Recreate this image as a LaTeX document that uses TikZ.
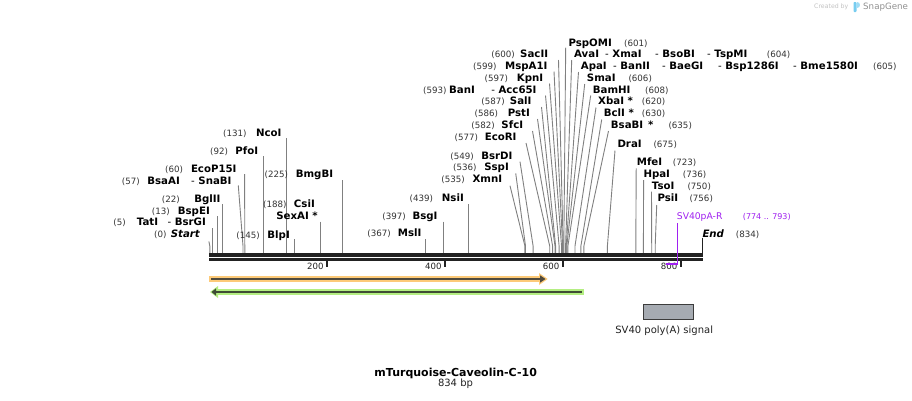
\documentclass[tikz,border=0pt]{standalone}
\usepackage{fontspec}
\setmainfont{DejaVu Sans}
\definecolor{cutgray}{RGB}{128,128,128}
\definecolor{numgray}{RGB}{51,51,51}
\definecolor{bbcol}{RGB}{34,34,34}
\definecolor{purp}{RGB}{160,32,240}
\definecolor{orband}{RGB}{253,202,120}
\definecolor{ordark}{RGB}{80,74,60}
\definecolor{grband}{RGB}{180,238,130}
\definecolor{grdark}{RGB}{62,76,52}
\definecolor{boxfill}{RGB}{166,171,178}
\definecolor{boxline}{RGB}{60,60,60}
\definecolor{snapblue}{RGB}{120,205,240}
\definecolor{crgray}{RGB}{195,195,195}
\definecolor{sggray}{RGB}{145,145,145}
\begin{document}
\begin{tikzpicture}[x=1pt,y=-1pt,
  nm/.style={inner sep=0pt,font=\fontsize{10.2}{12}\selectfont\bfseries,text=black},
  nmr/.style={nm,anchor=base east},
  nml/.style={nm,anchor=base west},
  nb/.style={inner sep=0pt,font=\fontsize{8.7}{10}\selectfont,text=numgray},
  nbr/.style={nb,anchor=base east},
  nbl/.style={nb,anchor=base west},
  cut/.style={draw=cutgray,line width=0.9pt},
  bar/.style={draw=bbcol,line width=3.2pt},
  tickmark/.style={draw=bbcol,line width=2pt},
  ticklbl/.style={inner sep=0pt,font=\fontsize{8.6}{10}\selectfont,text=bbcol,anchor=base east},
  plain/.style={inner sep=0pt}
]
\fill[white] (0,0) rectangle (912,400);
\useasboundingbox (0,0) rectangle (912,400);

% cut-site connectors
\foreach \id/\xb/\xt/\yt in {
 Start/209.8/208.9/241.5, TatI/212.3/212.3/228, BspEI/217.1/217.1/216, BglII/222.4/222.4/204,
 BsaAI/243.0/238.3/185.5, EcoP/244.8/244.6/174, PfoI/263.7/263.7/156, NcoI/286.7/286.7/138.3,
 BlpI/294.9/294.9/239, CsiI/320.3/320.3/221.7, BmgBI/342.1/342.1/180,
 MslI/425.8/425.8/239, BsgI/443.5/443.5/221.7, NsiI/468.3/468.3/204,
 XmnI/524.9/510/185.7, SspI/525.5/515.7/173.3, BsrDI/533.1/520/161.7, EcoRI/549.7/526/143,
 SfcI/552.6/532.5/131, PstI/555.0/537.5/119, SalI/555.6/541.5/107, BanI/559.1/545.5/95.5,
 KpnI/561.5/549.5/83.5, MspAI/562.6/554/71.5, SacII/563.2/558.5/60,
 PspOMI/563.8/565.7/47.5, AvaI/565.6/571.7/60, ApaI/566.2/578.5/72, SmaI/566.8/584.7/84,
 BamHI/567.9/590.7/95.5, XbaI/575.0/596/107.5, BclI/580.9/601.7/119.5, BsaBI/583.9/608.5/131,
 DraI/607.4/615/150.5, MfeI/635.8/636.2/168.3, HpaI/643.4/643.6/180, TsoI/651.7/651.5/191.7,
 PsiI/655.2/656.7/205}
{
 \coordinate (b\id) at (\xb,254);
 \coordinate (k\id) at (\xb,246);
 \coordinate (t\id) at (\xt,\yt);
 \draw[cut] (t\id) -- (k\id) -- (b\id);
}
\coordinate (bEnd) at (702,254);
\coordinate (tEnd) at (702,237.5);
\draw[draw=bbcol,line width=1pt] (tEnd) -- (bEnd);

% backbone
\coordinate (bbA1) at (209,255);
\coordinate (bbB1) at (703,255);
\coordinate (bbA2) at (209,259.5);
\coordinate (bbB2) at (703,259.5);
\draw[bar] (bbA1) -- (bbB1);
\draw[bar] (bbA2) -- (bbB2);

% ticks
\foreach \v/\x in {200/327,400/445,600/562.8,800/680.8}{
  \coordinate (tk\v a) at (\x,261);
  \coordinate (tk\v b) at (\x,267);
  \draw[tickmark] (tk\v a) -- (tk\v b);
  \node[ticklbl] (tl\v) at ({\x-3.3},269.3) {\v};
}

% left-side names
\node[nmr] (nStart) at (200,237.7) {\itshape Start};
\foreach \id/\t/\x/\y in {
 TatI/TatI/158.3/225.7, BsrGI/\textmd{-} BsrGI/206/225.7, BspEI/BspEI/210/214,
 BglII/BglII/220.7/202.3, BsaAI/BsaAI/180/184, SnaBI/\textmd{-} SnaBI/231.7/184,
 EcoP/EcoP15I/236.7/172.3, PfoI/PfoI/258.3/154.3, NcoI/NcoI/281.7/136.7,
 BlpI/BlpI/290/238.3, CsiI/CsiI/315/207.3, SexAI/SexAI */318/219.3,
 BmgBI/BmgBI/333.3/177.3, MslI/MslI/421.7/236.7, BsgI/BsgI/437.7/219.3,
 NsiI/NsiI/464/201, XmnI/XmnI/502.3/182.7, SspI/SspI/509/170.7,
 BsrDI/BsrDI/512.7/159, EcoRI/EcoRI/516.7/140.2, SfcI/SfcI/523.3/128.4,
 PstI/PstI/530/116.6, SalI/SalI/531.7/104.8, BanI/BanI/475/93,
 Acc/\textmd{-} Acc65I/536.7/93, KpnI/KpnI/543.3/81.3, MspAI/MspA1I/547.7/69.5,
 SacII/SacII/548.3/57.7}
{ \node[nmr] (n\id) at (\x,\y) {\t}; }

% left-side positions
\foreach \id/\t/\x/\y in {
 q0/(0)/166.7/237.7, q5/(5)/126/225.7, q13/(13)/170/214, q22/(22)/180/202.3,
 q57/(57)/140/184, q60/(60)/183.3/172.3, q92/(92)/228.3/154.3, q131/(131)/246.7/136.7,
 q145/(145)/260/238.3, q188/(188)/286.7/207.3, q225/(225)/288.3/177.3,
 q367/(367)/391/236.7, q397/(397)/406/219.3, q439/(439)/433.3/201,
 q535/(535)/465/182.7, q536/(536)/476.7/170.7, q549/(549)/474/159,
 q577/(577)/478.3/140.2, q582/(582)/495/128.4, q586/(586)/498.3/116.6,
 q587/(587)/505/104.8, q593/(593)/446.7/93, q597/(597)/508.3/81.3,
 q599/(599)/496.7/69.5, q600/(600)/515/57.7}
{ \node[nbr] (\id) at (\x,\y) {\t}; }

% right-side names
\node[nml] (nEnd) at (702.3,237.3) {\itshape End};
\foreach \id/\t/\x/\y in {
 PspOMI/PspOMI/568.3/46, AvaI/AvaI/574/57.7, XmaI/\textmd{-} XmaI/605/57.7,
 BsoBI/\textmd{-} BsoBI/655/57.7, TspMI/\textmd{-} TspMI/707/57.7,
 ApaI/ApaI/580.7/69.5, BanII/\textmd{-} BanII/613/69.5, BaeGI/\textmd{-} BaeGI/662/69.5,
 Bsp/\textmd{-} Bsp1286I/718/69.5, Bme/\textmd{-} Bme1580I/793/69.5,
 SmaI/SmaI/586.7/81.3, BamHI/BamHI/592.7/93, XbaI/XbaI */598/104.8,
 BclI/BclI */603.7/116.6, BsaBI/BsaBI\hspace{5pt}*/610.7/128.4, DraI/DraI/617.3/147.7,
 MfeI/MfeI/636.7/165.7, HpaI/HpaI/643.3/177.3, TsoI/TsoI/651.7/189, PsiI/PsiI/657.3/201}
{ \node[nml] (n\id) at (\x,\y) {\t}; }

% right-side positions
\foreach \id/\t/\x/\y in {
 q601/(601)/624/46, q604/(604)/766.7/57.7, q605/(605)/873/69.5, q606/(606)/628.3/81.3,
 q608/(608)/645/93, q620/(620)/641.7/104.8, q630/(630)/641.7/116.6, q635/(635)/668.3/128.4,
 q675/(675)/653.3/147.7, q723/(723)/672.7/165.7, q736/(736)/682.7/177.3,
 q750/(750)/687.3/189, q756/(756)/689.3/201, q834/(834)/735.7/237.3}
{ \node[nbl] (\id) at (\x,\y) {\t}; }

% primer SV40pA-R
\node[plain,anchor=base west,font=\fontsize{9.2}{11}\selectfont,text=purp] (pname) at (676.7,219.3) {SV40pA-R};
\node[plain,anchor=base west,font=\fontsize{8}{10}\selectfont,text=purp] (prange) at (742.7,219.3) {(774 .. 793)};
\coordinate (pT) at (677.6,223);
\coordinate (pR) at (677.6,264);
\coordinate (pL) at (666.4,264);
\draw[purp,line width=1pt] (pT) -- (pR);
\draw[purp,line width=2pt] (pL) -- (pR);

% features
\draw[orband,line width=6.3pt] (209,279) -- (540,279);
\fill[orband] (539,273) -- (547.7,279) -- (539,285) -- cycle;
\draw[ordark,line width=2.4pt] (211,279) -- (541,279);
\fill[ordark] (540,275.3) -- (545.5,279) -- (540,282.7) -- cycle;

\draw[grband,line width=6.3pt] (217,292) -- (584,292);
\fill[grband] (218,286) -- (210,292) -- (218,298) -- cycle;
\draw[grdark,line width=2.4pt] (215,292) -- (582,292);
\fill[grdark] (216,288.3) -- (211.5,292) -- (216,295.7) -- cycle;

\node[draw=boxline,fill=boxfill,line width=1pt,minimum width=49.7pt,minimum height=14.7pt,inner sep=0pt,anchor=north west] (polyA) at (643,304) {};
\node[plain,anchor=base,font=\fontsize{10}{12}\selectfont,text=bbcol] (polyAlbl) at (664.2,333.3) {SV40 poly(A) signal};

% title
\node[plain,anchor=base,font=\fontsize{11}{13}\selectfont\bfseries] (title) at (455.7,376) {mTurquoise-Caveolin-C-10};
\node[plain,anchor=base,font=\fontsize{10}{12}\selectfont,text=bbcol] (len) at (455.5,386.5) {834 bp};

% watermark
\node[plain,anchor=west,font=\fontsize{6.2}{7}\selectfont,text=crgray] (cr) at (814,7) {Created by};
\fill[snapblue,rounded corners=0.8pt] (853.5,2) rectangle (856.5,12);
\fill[snapblue!70] (856.5,2) .. controls (861,2) and (861,7.5) .. (856.5,7.5) -- cycle;
\node[plain,anchor=west,font=\fontsize{8.7}{10}\selectfont,text=sggray] (sg) at (863,7) {SnapGene};
\end{tikzpicture}
\end{document}
